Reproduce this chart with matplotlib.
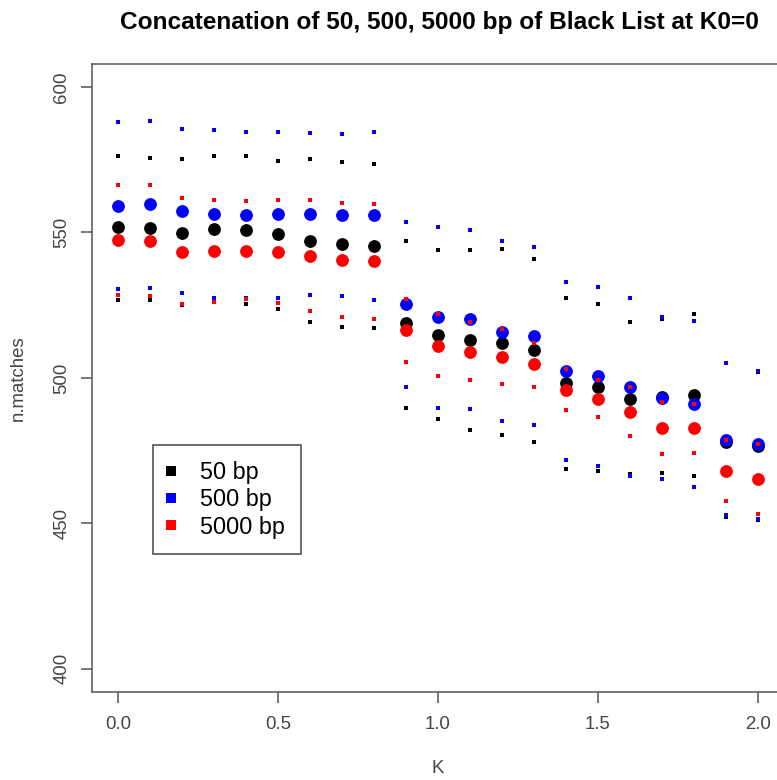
import matplotlib
matplotlib.use("Agg")
import matplotlib.pyplot as plt
from matplotlib.lines import Line2D

plt.rcParams['font.family'] = ['Liberation Sans', 'DejaVu Sans']

# K values
k = [0.0, 0.1, 0.2, 0.3, 0.4, 0.5, 0.6, 0.7, 0.8, 0.9, 1.0,
     1.1, 1.2, 1.3, 1.4, 1.5, 1.6, 1.7, 1.8, 1.9, 2.0]

# mean n.matches (big dots)
black_mean = [552.0, 551.4, 549.9, 551.1, 550.9, 549.4, 547.1, 545.9, 545.5, 518.8, 514.7,
              512.9, 512.0, 509.5, 498.4, 496.8, 492.9, 493.5, 494.2, 478.1, 476.6]
blue_mean = [559.2, 559.7, 557.2, 556.4, 556.0, 556.4, 556.4, 555.9, 555.9, 525.4, 520.8,
             520.2, 515.9, 514.3, 502.2, 500.6, 496.9, 493.2, 491.0, 478.7, 477.2]
red_mean = [547.4, 547.1, 543.3, 543.7, 543.7, 543.4, 542.0, 540.5, 540.1, 516.3, 511.1,
            509.0, 507.2, 504.7, 495.8, 492.9, 488.3, 482.9, 482.6, 468.0, 465.2]

# upper bounds (small dots)
black_hi = [576.3, 575.5, 575.1, 576.3, 576.3, 574.7, 575.1, 574.2, 573.4, 547.1, 543.8,
            543.8, 544.2, 540.8, 527.5, 525.4, 519.2, 520.4, 521.8, 505.0, 502.0]
blue_hi = [588.0, 588.4, 585.5, 585.1, 584.6, 584.6, 584.3, 583.8, 584.6, 553.7, 551.7,
           550.9, 547.1, 545.0, 533.0, 531.3, 527.5, 521.0, 519.7, 505.1, 502.3]
red_hi = [566.2, 566.2, 561.7, 561.3, 560.9, 561.3, 561.3, 560.0, 559.7, 527.0, 522.0,
          519.2, 516.7, 512.1, 502.9, 499.3, 496.7, 491.8, 491.0, 478.6, 477.2]

# lower bounds (small dots)
black_lo = [526.8, 526.8, 525.1, 526.0, 525.5, 523.8, 519.2, 517.6, 517.2, 489.6, 485.9,
            482.1, 480.5, 477.9, 468.8, 468.0, 466.8, 467.2, 466.3, 452.1, 451.0]
blue_lo = [530.5, 530.8, 529.3, 527.6, 527.3, 527.6, 528.4, 528.0, 526.8, 496.7, 489.6,
           489.2, 485.1, 483.7, 471.7, 469.8, 466.4, 465.2, 462.6, 452.9, 451.5]
red_lo = [528.4, 528.1, 525.4, 526.1, 527.0, 525.9, 523.0, 520.9, 520.2, 505.4, 500.5,
          499.2, 498.0, 497.0, 488.8, 486.7, 480.1, 473.8, 474.2, 457.5, 453.2]

labels = ['50 bp', '500 bp', '5000 bp']
colors = ['black', '#0000ff', '#ff0000']

fig = plt.figure(figsize=(7.77, 7.80), dpi=100)
# plot region runs past the right edge, like the original
ax = fig.add_axes([0.1189, 0.1128, 0.8896, 0.8055])

series = [(black_mean, black_hi, black_lo),
          (blue_mean, blue_hi, blue_lo),
          (red_mean, red_hi, red_lo)]
for (m, hi, lo), c in zip(series, colors):
    ax.plot(k, m, 'o', color=c, ms=9.2, mew=0, clip_on=False)
    ax.plot(k, hi, 's', color=c, ms=2.3, mew=0, clip_on=False)
    ax.plot(k, lo, 's', color=c, ms=2.3, mew=0, clip_on=False)

ax.set_xlim(-0.08, 2.08)
ax.set_ylim(392, 608)
ax.set_xticks([0.0, 0.5, 1.0, 1.5, 2.0])
ax.set_xticklabels(['0.0', '0.5', '1.0', '1.5', '2.0'])
ax.set_yticks([400, 450, 500, 550, 600])
ax.set_yticklabels(['400', '450', '500', '550', '600'], rotation=90, va='center')

gray = '#555555'
for s in ax.spines.values():
    s.set_color(gray)
    s.set_linewidth(1.1)
ax.tick_params(axis='both', colors=gray, labelcolor='#444444', length=8, width=1.1,
               labelsize=13.4)
ax.tick_params(axis='x', pad=9)
ax.tick_params(axis='y', pad=8)

ax.set_xlabel('K', fontsize=13.4, color='#444444')
ax.xaxis.set_label_coords(0.5, -0.121)
ax.xaxis.label.set_va('center')
ax.set_ylabel('n.matches', fontsize=13.4, color='#444444')
ax.yaxis.set_label_coords(-0.1076, 0.5)
ax.yaxis.label.set_va('center')

ax.text(0.5015, 1.0664, 'Concatenation of 50, 500, 5000 bp of Black List at K0=0',
        transform=ax.transAxes, ha='center', va='center', fontsize=17.6,
        fontweight='bold')

handles = [Line2D([], [], marker='s', ls='none', color=c, ms=6.5, mew=0) for c in colors]
leg = ax.legend(handles, labels, loc='upper left', bbox_to_anchor=(0.0877, 0.3931),
                borderaxespad=0, fontsize=16.8, frameon=True, fancybox=False,
                edgecolor='#444444', framealpha=1, borderpad=0.675, handlelength=0.17,
                handletextpad=1.17, labelspacing=0.19)
leg.get_frame().set_linewidth(1.1)

fig.savefig('out.png', dpi=100)
